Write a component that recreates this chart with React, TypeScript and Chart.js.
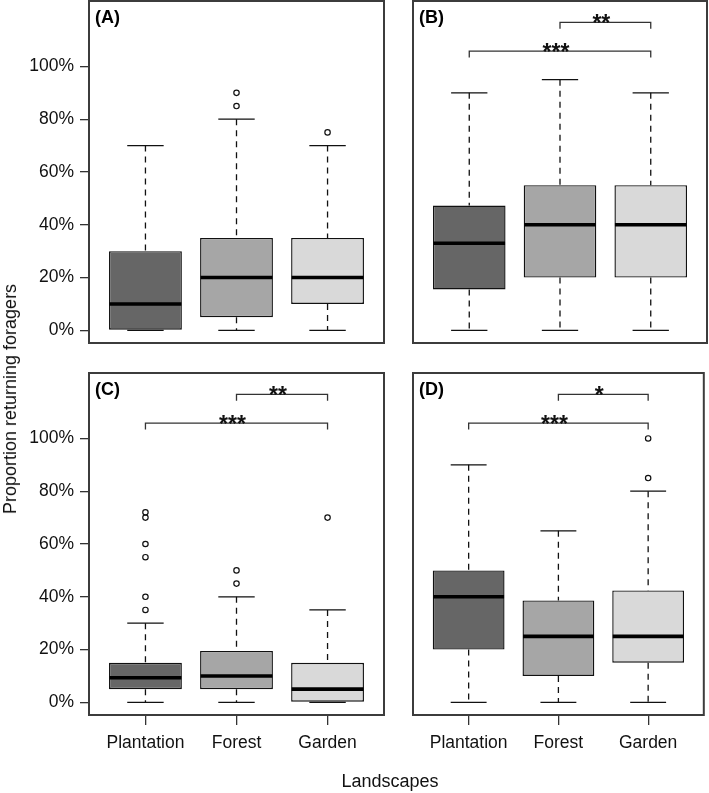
import React, { useEffect, useRef } from 'react';
import { Chart, registerables } from 'chart.js';

Chart.register(...registerables);

// ---------- data ----------
const categories = ['Plantation', 'Forest', 'Garden'];
const yTickValues = [0, 20, 40, 60, 80, 100];
const yAxisMin = -4.8;
const yAxisMax = 124.8;
const xAxisMin = 0.38;
const xAxisMax = 3.62;

// Panel A
const aLower = [0, 0, 0];
const aQ1 = [0, 5, 10];
const aMedian = [10, 20, 20];
const aQ3 = [30, 35, 35];
const aUpper = [70, 80, 70];
const aOutliers = [[], [85, 90], [75]];
const aBrackets: { from: number; to: number; level: number; label: string }[] = [];

// Panel B
const bLower = [0, 0, 0];
const bQ1 = [15.5, 20, 20];
const bMedian = [33, 40, 40];
const bQ3 = [47.3, 55, 55];
const bUpper = [90, 95, 90];
const bOutliers = [[], [], []];
const bBrackets = [
  { from: 2, to: 3, level: 116.7, label: '**' },
  { from: 1, to: 3, level: 105.8, label: '***' },
];

// Panel C
const cLower = [0, 0, 0];
const cQ1 = [5, 5, 0];
const cMedian = [9.3, 10, 5];
const cQ3 = [15, 19.5, 15];
const cUpper = [30, 40, 35];
const cOutliers = [[35, 40, 55, 60, 70, 72], [45, 50], [70]];
const cBrackets = [
  { from: 2, to: 3, level: 116.7, label: '**' },
  { from: 1, to: 3, level: 105.8, label: '***' },
];

// Panel D
const dLower = [0, 0, 0];
const dQ1 = [20, 10, 15];
const dMedian = [40, 25, 25];
const dQ3 = [50, 38.6, 42.4];
const dUpper = [90, 65, 80];
const dOutliers = [[], [], [85, 100]];
const dBrackets = [
  { from: 2, to: 3, level: 116.7, label: '*' },
  { from: 1, to: 3, level: 105.8, label: '***' },
];

// ---------- styles ----------
const FONT = '"Liberation Sans", Arial, Helvetica, sans-serif';
const boxFills = ['#666666', '#a6a6a6', '#d9d9d9'];
const INK = '#111111';

type PanelStats = {
  label: string;
  lower: number[];
  q1: number[];
  median: number[];
  q3: number[];
  upper: number[];
  outliers: number[][];
  brackets: { from: number; to: number; level: number; label: string }[];
};

type PanelLayout = {
  left: number;
  top: number;
  width: number;
  height: number;
  pad: { left: number; top: number; right: number; bottom: number };
  showY: boolean;
  showX: boolean;
};

const panels: { stats: PanelStats; layout: PanelLayout }[] = [
  {
    stats: { label: '(A)', lower: aLower, q1: aQ1, median: aMedian, q3: aQ3, upper: aUpper, outliers: aOutliers, brackets: aBrackets },
    layout: { left: 0, top: -10, width: 390, height: 370, pad: { left: 0, top: 11, right: 6, bottom: 17 }, showY: true, showX: false },
  },
  {
    stats: { label: '(B)', lower: bLower, q1: bQ1, median: bMedian, q3: bQ3, upper: bUpper, outliers: bOutliers, brackets: bBrackets },
    layout: { left: 390, top: -10, width: 319, height: 370, pad: { left: 23, top: 11, right: 2, bottom: 17 }, showY: false, showX: false },
  },
  {
    stats: { label: '(C)', lower: cLower, q1: cQ1, median: cMedian, q3: cQ3, upper: cUpper, outliers: cOutliers, brackets: cBrackets },
    layout: { left: 0, top: 362, width: 390, height: 431, pad: { left: 0, top: 11, right: 6, bottom: 38 }, showY: true, showX: true },
  },
  {
    stats: { label: '(D)', lower: dLower, q1: dQ1, median: dMedian, q3: dQ3, upper: dUpper, outliers: dOutliers, brackets: dBrackets },
    layout: { left: 390, top: 362, width: 319, height: 431, pad: { left: 23, top: 11, right: 2, bottom: 38 }, showY: false, showX: true },
  },
];

function makePlugin(stats: PanelStats) {
  return {
    id: 'boxExtras',
    afterDatasetsDraw(chart: any) {
      const ctx = chart.ctx as CanvasRenderingContext2D;
      const xs = chart.scales.x;
      const ys = chart.scales.y;
      const meta = chart.getDatasetMeta(1);
      ctx.save();
      // whiskers + caps
      for (let i = 0; i < categories.length; i++) {
        const cx = xs.getPixelForValue(i + 1);
        const capHalf = Math.abs(xs.getPixelForValue(i + 1.2) - cx);
        const yLo = ys.getPixelForValue(stats.lower[i]);
        const yQ1 = ys.getPixelForValue(stats.q1[i]);
        const yQ3 = ys.getPixelForValue(stats.q3[i]);
        const yUp = ys.getPixelForValue(stats.upper[i]);
        ctx.strokeStyle = INK;
        ctx.lineWidth = 1.3;
        ctx.setLineDash([6, 5]);
        ctx.beginPath();
        if (yUp < yQ3) {
          ctx.moveTo(cx, yUp);
          ctx.lineTo(cx, yQ3);
        }
        if (yLo > yQ1) {
          ctx.moveTo(cx, yQ1);
          ctx.lineTo(cx, yLo);
        }
        ctx.stroke();
        ctx.setLineDash([]);
        ctx.beginPath();
        ctx.moveTo(cx - capHalf, yUp);
        ctx.lineTo(cx + capHalf, yUp);
        ctx.moveTo(cx - capHalf, yLo);
        ctx.lineTo(cx + capHalf, yLo);
        ctx.stroke();
        // median
        const bar = meta.data[i];
        const half = bar.width / 2;
        const ym = ys.getPixelForValue(stats.median[i]);
        ctx.lineWidth = 3.6;
        ctx.strokeStyle = '#000';
        ctx.beginPath();
        ctx.moveTo(bar.x - half + 0.5, ym);
        ctx.lineTo(bar.x + half - 0.5, ym);
        ctx.stroke();
      }
      // significance brackets
      ctx.strokeStyle = '#333';
      ctx.lineWidth = 1.3;
      ctx.fillStyle = INK;
      ctx.font = `bold 23px ${FONT}`;
      ctx.textAlign = 'center';
      ctx.textBaseline = 'alphabetic';
      for (const br of stats.brackets) {
        const x1 = xs.getPixelForValue(br.from);
        const x2 = xs.getPixelForValue(br.to);
        const yl = ys.getPixelForValue(br.level);
        const yd = ys.getPixelForValue(br.level - 2.4);
        ctx.beginPath();
        ctx.moveTo(x1, yd);
        ctx.lineTo(x1, yl);
        ctx.lineTo(x2, yl);
        ctx.lineTo(x2, yd);
        ctx.stroke();
        ctx.fillText(br.label, (x1 + x2) / 2 - 4, yl + 8.5);
      }
      ctx.restore();
    },
    afterDraw(chart: any) {
      const ctx = chart.ctx as CanvasRenderingContext2D;
      const a = chart.chartArea;
      ctx.save();
      ctx.strokeStyle = '#3c3c3c';
      ctx.lineWidth = 2;
      ctx.strokeRect(a.left, a.top, a.right - a.left, a.bottom - a.top);
      ctx.fillStyle = '#000';
      ctx.font = `bold 18px ${FONT}`;
      ctx.textAlign = 'left';
      ctx.textBaseline = 'middle';
      ctx.fillText(stats.label, a.left + 6, a.top + 17);
      ctx.restore();
    },
  };
}

function zeroPadding(s: any) {
  s.paddingTop = 0;
  s.paddingBottom = 0;
  s.paddingLeft = 0;
  s.paddingRight = 0;
}

function Panel({ stats, layout }: { stats: PanelStats; layout: PanelLayout }) {
  const ref = useRef<HTMLCanvasElement | null>(null);
  useEffect(() => {
    if (!ref.current) return;
    const outlierPoints: { x: number; y: number }[] = [];
    stats.outliers.forEach((list, i) => list.forEach((v) => outlierPoints.push({ x: i + 1, y: v })));
    const chart = new Chart(ref.current, {
      type: 'bar',
      data: {
        datasets: [
          {
            type: 'scatter',
            data: outlierPoints,
            pointStyle: 'circle',
            pointRadius: 2.7,
            pointBorderWidth: 1.2,
            pointBorderColor: INK,
            pointBackgroundColor: 'rgba(255,255,255,0)',
            order: 0,
          } as any,
          {
            type: 'bar',
            data: categories.map((_, i) => ({ x: i + 1, y: [stats.q1[i], stats.q3[i]] })),
            backgroundColor: boxFills,
            borderColor: INK,
            borderWidth: 1.4,
            borderSkipped: false,
            barPercentage: 0.8,
            categoryPercentage: 1,
            order: 1,
          } as any,
        ],
      },
      options: {
        animation: false,
        responsive: false,
        maintainAspectRatio: false,
        events: [],
        layout: { padding: layout.pad },
        plugins: { legend: { display: false }, tooltip: { enabled: false } },
        scales: {
          x: {
            type: 'linear',
            min: xAxisMin,
            max: xAxisMax,
            bounds: 'data',
            offset: false,
            display: layout.showX,
            grid: { display: true, offset: false, drawOnChartArea: false, drawTicks: true, tickLength: 10, color: '#333', lineWidth: 1.3 },
            border: { display: false },
            ticks: {
              font: { family: FONT, size: 17.5 },
              color: INK,
              padding: 8,
              maxRotation: 0,
              autoSkip: false,
              callback: (v: any) => categories[Math.round(Number(v)) - 1] ?? '',
            },
            afterBuildTicks: (s: any) => {
              s.ticks = categories.map((_, i) => ({ value: i + 1 }));
            },
            afterFit: (s: any) => {
              zeroPadding(s);
              if (layout.showX) s.height = 40;
            },
          } as any,
          y: {
            type: 'linear',
            min: yAxisMin,
            max: yAxisMax,
            bounds: 'data',
            display: layout.showY,
            grid: { display: true, drawOnChartArea: false, drawTicks: true, tickLength: 9, color: '#333', lineWidth: 1.3 },
            border: { display: false },
            ticks: {
              font: { family: FONT, size: 17.5 },
              color: INK,
              padding: 6,
              callback: (v: any) => `${v}%`,
            },
            afterBuildTicks: (s: any) => {
              s.ticks = yTickValues.map((v) => ({ value: v }));
            },
            afterFit: (s: any) => {
              zeroPadding(s);
              if (layout.showY) s.width = 89;
            },
          } as any,
        },
      },
      plugins: [makePlugin(stats)],
    });
    return () => chart.destroy();
  }, []);
  return (
    <canvas
      ref={ref}
      width={layout.width}
      height={layout.height}
      style={{ position: 'absolute', left: layout.left, top: layout.top, width: layout.width, height: layout.height }}
    />
  );
}

export default function App() {
  return (
    <div style={{ position: 'fixed', left: 0, top: 0, width: 709, height: 793, background: '#fff', overflow: 'hidden' }}>
      {panels.map((p, i) => (
        <Panel key={i} stats={p.stats} layout={p.layout} />
      ))}
      <div
        style={{
          position: 'absolute',
          left: 10,
          top: 399,
          transform: 'translate(-50%, -50%) rotate(-90deg)',
          whiteSpace: 'nowrap',
          fontFamily: FONT,
          fontSize: 18,
          lineHeight: 1,
          color: INK,
        }}
      >
        Proportion returning foragers
      </div>
      <div
        style={{
          position: 'absolute',
          left: 390,
          top: 781,
          transform: 'translate(-50%, -50%)',
          whiteSpace: 'nowrap',
          fontFamily: FONT,
          fontSize: 18,
          lineHeight: 1,
          color: INK,
        }}
      >
        Landscapes
      </div>
    </div>
  );
}
